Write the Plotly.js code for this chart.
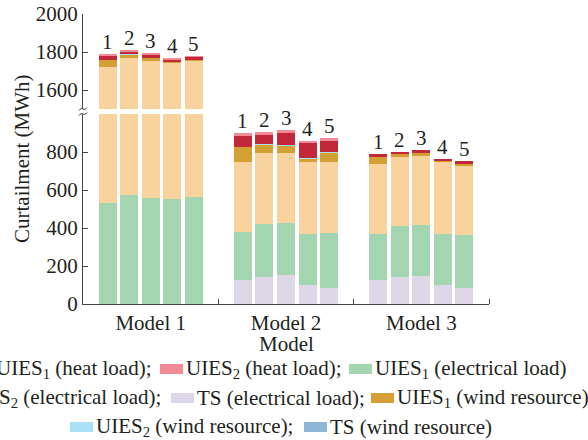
<!DOCTYPE html>
<html>
<head>
<meta charset="utf-8">
<script src="https://cdn.plot.ly/plotly-3.0.1.min.js"></script>
<style>html,body{margin:0;padding:0;background:#fff;}#chart{width:588px;height:440px;}</style>
</head>
<body>
<div id="chart"></div>
<script>
// ---- data ----
const models = ['Model 1', 'Model 2', 'Model 3'];
const barLabels = ['1', '2', '3', '4', '5'];
// values listed model by model, bars 1..5 inside each model
const tsElec    = [0, 0, 0, 0, 0,            126, 142, 153, 100, 84,   126, 142, 147, 100, 84];
const uies1Elec = [530, 572, 558, 551, 563,  253, 279, 273, 268, 290,  242, 269, 269, 268, 279];
const uies2Elec = [1191, 1196, 1196, 1191, 1190, 368, 374, 369, 379, 373, 369, 363, 363, 379, 363];
const uies1Wind = [37, 16, 14, 7, 3,         79, 42, 37, 16, 48,       37, 15, 16, 6, 11];
const uies2Wind = [0, 4, 0, 0, 0,            0, 5, 5, 5, 5,            0, 0, 0, 0, 0];
const tsWind    = [0, 0, 0, 0, 0,            0, 0, 0, 0, 0,            0, 0, 0, 0, 0];
const uies1Heat = [23, 14, 16, 9, 16,        58, 47, 63, 79, 58,       15, 11, 16, 10, 14];
const uies2Heat = [10, 11, 11, 10, 9,        16, 16, 16, 11, 16,       0, 0, 0, 0, 0];
const seriesNames = ['TS (electrical load)', 'UIES<sub>1</sub> (electrical load)', 'UIES<sub>2</sub> (electrical load)',
  'UIES<sub>1</sub> (wind resource)', 'UIES<sub>2</sub> (wind resource)', 'TS (wind resource)',
  'UIES<sub>1</sub> (heat load)', 'UIES<sub>2</sub> (heat load)'];

// ---- styling ----
const colors = ['#ddd7e8', '#a3d5b0', '#f8d39e', '#d4a035', '#a9e1f6', '#8fb6d6', '#c3283a', '#f28b95'];
const seriesValues = [tsElec, uies1Elec, uies2Elec, uies1Wind, uies2Wind, tsWind, uies1Heat, uies2Heat];
const FONT = 'Liberation Serif';
const FS = 21;
const TXT = '#231f20';
const AX = '#444';

const pitch = 0.159, barW = 0.133;
const xPos = [];
models.forEach((m, g) => barLabels.forEach((b, i) => xPos.push(g + (i - 2) * pitch)));

const traces = [];
seriesValues.forEach((vals, s) => {
  ['y', 'y2'].forEach(ya => {
    traces.push({
      type: 'bar', x: xPos, y: vals, width: barW, yaxis: ya, xaxis: 'x',
      name: seriesNames[s], showlegend: false, hoverinfo: 'skip',
      marker: {color: colors[s], line: {width: 0}}
    });
  });
});

// plot area geometry (px): left 83, right 489, top 14, bottom 304
const L = 83, R = 489, T = 14, B = 304;
const W = R - L, H = B - T;
const px2x = p => (p - L) / W;
const py2y = p => (B - p) / H;

const annotations = [];
// bar number labels
xPos.forEach((x, k) => {
  let tot = 0; seriesValues.forEach(v => tot += v[k]);
  annotations.push({
    x: x, y: tot, xref: 'x', yref: tot > 1000 ? 'y2' : 'y', text: barLabels[k % 5],
    showarrow: false, yanchor: 'bottom', yshift: -2, font: {family: FONT, size: FS, color: TXT}
  });
});
// y axis title
annotations.push({
  xref: 'paper', yref: 'paper', x: px2x(22), y: py2y(159), text: 'Curtailment (MWh)',
  textangle: -90, showarrow: false, xanchor: 'center', yanchor: 'middle',
  font: {family: FONT, size: FS, color: TXT}
});
// x axis title
annotations.push({
  xref: 'paper', yref: 'paper', x: 0.5, y: py2y(344), text: 'Model',
  showarrow: false, xanchor: 'center', yanchor: 'middle',
  font: {family: FONT, size: FS, color: TXT}
});

// custom legend (rows as in the reference); items: [series, swatch left px, text right px (first items only)]
const legendRows = [
  {py: 369, items: [[6, -30, 153], [7, 160], [1, 349]]},
  {py: 398, items: [[2, -55, 163], [0, 171], [3, 371]]},
  {py: 427, items: [[4, 70], [5, 304]]}
];
const shapes = [];
legendRows.forEach((row, r) => {
  row.items.forEach(([s, sx, tr], j) => {
    shapes.push({type: 'rect', xref: 'paper', yref: 'paper',
      x0: px2x(sx), x1: px2x(sx + 23), y0: py2y(row.py + 5), y1: py2y(row.py - 5),
      fillcolor: colors[s], line: {width: 0}});
    const last = j === row.items.length - 1;
    const ann = {xref: 'paper', yref: 'paper', y: py2y(row.py),
      text: seriesNames[s] + (last ? '' : ';'), showarrow: false,
      yanchor: 'middle', font: {family: FONT, size: FS, color: TXT}};
    if (tr !== undefined) { ann.x = px2x(tr); ann.xanchor = 'right'; }
    else { ann.x = px2x(sx + 24); ann.xanchor = 'left'; }
    annotations.push(ann);
  });
});

// axis break marks
[109, 114].forEach(p => {
  shapes.push({type: 'path', xref: 'paper', yref: 'paper', xsizemode: 'pixel', ysizemode: 'pixel',
    xanchor: 0, yanchor: py2y(p), path: 'M-4,-1.5 C-1.5,3 1.5,-3 4,1.5',
    line: {color: AX, width: 1}});
});

const axisFont = {family: FONT, size: FS, color: TXT};
const layout = {
  width: 588, height: 440,
  margin: {l: L, r: 588 - R, t: T, b: 440 - B},
  paper_bgcolor: '#fff', plot_bgcolor: '#fff',
  barmode: 'stack', showlegend: false,
  font: {family: FONT, size: FS, color: TXT},
  xaxis: {
    range: [-0.5, 2.5], tickmode: 'array', tickvals: [0, 1, 2], ticktext: models,
    ticks: '', showgrid: false, zeroline: false, showline: true, linecolor: AX, linewidth: 1,
    tickfont: axisFont, anchor: 'y',
    minor: {tickmode: 'array', tickvals: [0.5, 1.5, 2.5], ticks: 'inside', ticklen: 5, tickcolor: AX, showgrid: false}
  },
  yaxis: {
    domain: [0, 190 / 290], range: [0, 1000], tickmode: 'array', tickvals: [0, 200, 400, 600, 800],
    ticks: 'inside', ticklen: 5, tickcolor: AX, showgrid: false, zeroline: false,
    showline: true, linecolor: AX, linewidth: 1, tickfont: axisFont, anchor: 'x'
  },
  yaxis2: {
    domain: [195 / 290, 1], range: [1500, 2000], tickmode: 'array', tickvals: [1600, 1800, 2000],
    ticks: 'inside', ticklen: 5, tickcolor: AX, showgrid: false, zeroline: false,
    showline: true, linecolor: AX, linewidth: 1, tickfont: axisFont, anchor: 'x'
  },
  annotations: annotations,
  shapes: shapes
};

Plotly.newPlot('chart', traces, layout, {staticPlot: true, displayModeBar: false});
</script>
</body>
</html>
